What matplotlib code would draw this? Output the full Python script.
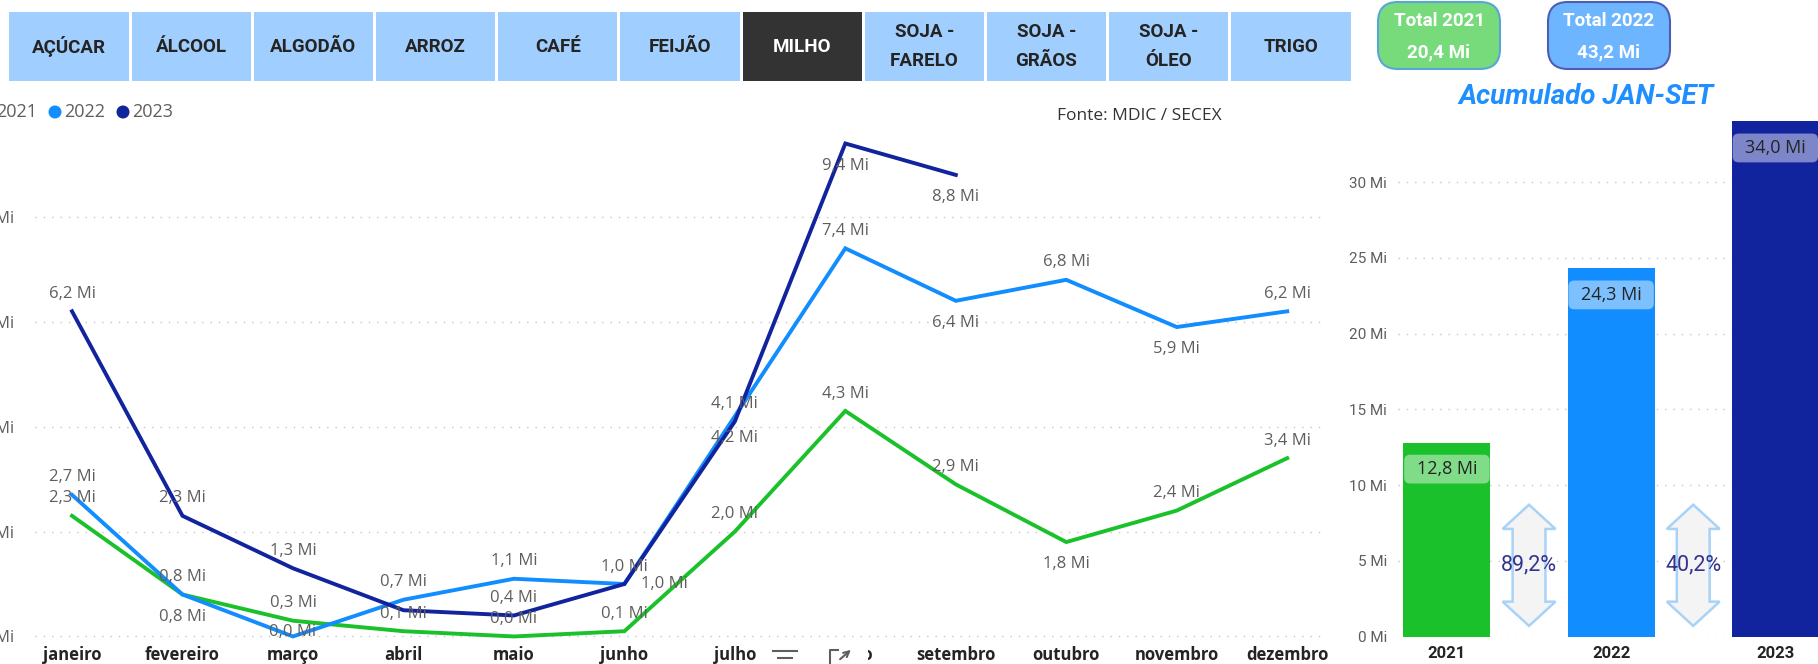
import matplotlib
matplotlib.use("Agg")
import matplotlib.pyplot as plt
from matplotlib.patches import Rectangle, FancyBboxPatch, Polygon, Circle

# Dados (Mi toneladas) - exportação de milho, fonte MDIC / SECEX
MESES = ['janeiro', 'fevereiro', 'março', 'abril', 'maio', 'junho', 'julho',
         'agosto', 'setembro', 'outubro', 'novembro', 'dezembro']
ANOS = ['2021', '2022', '2023']
V2021 = [2.3, 0.8, 0.3, 0.1, 0.0, 0.1, 2.0, 4.3, 2.9, 1.8, 2.4, 3.4]
V2022 = [2.7, 0.8, 0.0, 0.7, 1.1, 1.0, 4.2, 7.4, 6.4, 6.8, 5.9, 6.2]
V2023 = [6.2, 2.3, 1.3, 0.5, 0.4, 1.0, 4.1, 9.4, 8.8]
ACUMULADO = [12.8, 24.3, 34.0]      # JAN-SET
CRESCIMENTO = [89.2, 40.2]          # %
TOTAIS = [20.4, 43.2]               # total 2021, 2022
PRODUTOS = ['AÇÚCAR', 'ÁLCOOL', 'ALGODÃO', 'ARROZ', 'CAFÉ', 'FEIJÃO', 'MILHO',
            'SOJA -\nFARELO', 'SOJA -\nGRÃOS', 'SOJA -\nÓLEO', 'TRIGO']
SELECIONADO = 'MILHO'

CORES = ['#1AC12A', '#118DFF', '#12239E']
# posição dos rótulos: a = acima, b = abaixo, c = sobre o ponto, r = à direita, - = oculto
POS_ROTULOS = ['aaaaaaaaabaa', 'abcaaabababa', 'aaa-arabb']
OFFSETS = {'a': (0, 12.5), 'b': (0, -16), 'c': (0, 3), 'r': (29, 0)}

CINZA = '#605e5c'
ESCURO = '#252423'
W, H = 1818, 664


def fmt_mi(v):
    return f"{v:.1f}".replace('.', ',') + " Mi"


def frac(x0, y0, x1, y1):
    """pixel box (top-left origin) -> figure fraction rect"""
    return [x0 / W, (H - y1) / H, (x1 - x0) / W, (y1 - y0) / H]


fig = plt.figure(figsize=(W / 100, H / 100), dpi=100)
fig.patch.set_facecolor('white')

# ---------------- line chart ----------------
ax = fig.add_axes(frac(35, 112, 1327, 641.7))
series = [V2021, V2022, V2023]
for vals, cor, pos in zip(series, CORES, POS_ROTULOS):
    x = list(range(len(vals)))
    ax.plot(x, vals, color=cor, lw=2.8, solid_joinstyle='miter', zorder=3)
    for xi, v, p in zip(x, vals, pos):
        if p == '-':
            continue
        ax.annotate(fmt_mi(v), (xi, v), xytext=OFFSETS[p], textcoords='offset points',
                    ha='center', va='center', fontsize=12, color=CINZA,
                    family='Open Sans', zorder=4)
ax.set_xlim(-0.335, 11.36)
ax.set_ylim(-0.1, 10.0)
ax.set_yticks([0, 2, 4, 6, 8])
ax.set_yticklabels([f"{t} Mi" for t in [0, 2, 4, 6, 8]], family='Open Sans',
                   fontsize=12, color=CINZA)
ax.set_xticks(range(12))
ax.set_xticklabels(MESES, family='Open Sans', fontweight='bold', fontsize=12, color=ESCURO)
ax.tick_params(axis='y', length=0, pad=15)
ax.tick_params(axis='x', length=0, pad=3)
ax.grid(axis='y', linestyle=(0, (1, 5)), color='#c8c6c4', lw=1)
for s in ax.spines.values():
    s.set_visible(False)
ax.patch.set_alpha(0)

# ---------------- accumulated bars ----------------
axb = fig.add_axes(frac(1398, 106.3, 1830, 636.5))
xb = list(range(len(ACUMULADO)))
axb.bar(xb, ACUMULADO, width=0.53, color=CORES, zorder=2)
aspect = (1 / 15.15) / (1 / 164.6)
for xi, v in zip(xb, ACUMULADO):
    axb.add_patch(FancyBboxPatch((xi - 0.26, v - 1.75 - 0.95), 0.52, 1.9,
                                 boxstyle="round,pad=0,rounding_size=0.036",
                                 mutation_aspect=aspect, fc='white', alpha=0.45,
                                 ec='none', zorder=3))
    axb.text(xi, v - 1.75, fmt_mi(v), ha='center', va='center', fontsize=13,
             family='Open Sans', color=ESCURO, zorder=4)

for i, c in enumerate(CRESCIMENTO):
    xc = i + 0.5
    hw, sw, hl, y0, y1 = 0.161, 0.1, 1.6, 0.7, 8.7
    pts = [(xc, y1), (xc + hw, y1 - hl), (xc + sw, y1 - hl), (xc + sw, y0 + hl),
           (xc + hw, y0 + hl), (xc, y0), (xc - hw, y0 + hl), (xc - sw, y0 + hl),
           (xc - sw, y1 - hl), (xc - hw, y1 - hl)]
    axb.add_patch(Polygon(pts, closed=True, fc='#f4f4f4', ec='#a9d2f7', lw=1.8, zorder=3))
    axb.text(xc, 4.7, f"{c:.1f}%".replace('.', ','), ha='center', va='center',
             fontsize=15.5, family='Roboto', color='#32348f', zorder=4)

axb.set_xlim(-0.298, 2.333)
axb.set_ylim(0, 35)
axb.set_yticks(range(0, 35, 5))
axb.set_yticklabels([f"{t} Mi" for t in range(0, 35, 5)], family='Roboto',
                    fontsize=11, color=CINZA)
axb.set_xticks(xb)
axb.set_xticklabels(ANOS, family='Roboto', fontweight='bold', fontsize=12, color=ESCURO)
axb.tick_params(axis='y', length=0, pad=8)
axb.tick_params(axis='x', length=0, pad=7)
axb.grid(axis='y', linestyle=(0, (1, 5)), color='#c8c6c4', lw=1)
axb.set_axisbelow(True)
for s in axb.spines.values():
    s.set_visible(False)
axb.patch.set_alpha(0)

# ---------------- overlay: buttons, cards, legend ----------------
ov = fig.add_axes([0, 0, 1, 1], zorder=10)
ov.set_xlim(0, W)
ov.set_ylim(H, 0)
ov.axis('off')
ov.patch.set_alpha(0)

bx0, bstep = 9.3, 122.2
for i, p in enumerate(PRODUTOS):
    sel = p == SELECIONADO
    ov.add_patch(Rectangle((bx0 + i * bstep, 11.6), bstep - 3, 69.4,
                           fc='#333333' if sel else '#a0cfff', ec='none'))
    ov.text(bx0 + i * bstep + (bstep - 3) / 2, 46.5, p, ha='center', va='center',
            fontsize=13.5, fontweight='bold', family='Roboto', linespacing=1.75,
            color='white' if sel else ESCURO)

cards = [(1378, '#77db7c', '#58a6d8'), (1548, '#6db6ff', '#4e5db3')]
for (cx, fc, ec), ano, tot in zip(cards, ANOS, TOTAIS):
    ov.add_patch(FancyBboxPatch((cx, 2), 122, 67, boxstyle="round,pad=0,rounding_size=20",
                                fc=fc, ec=ec, lw=1.5))
    ov.text(cx + 61, 21, f"Total {ano}", ha='center', va='center', fontsize=13.5,
            fontweight='bold', family='Roboto', color='white')
    ov.text(cx + 61, 52, fmt_mi(tot), ha='center', va='center', fontsize=13.5,
            fontweight='bold', family='Roboto', color='white')

ov.text(1586, 96, 'Acumulado JAN-SET', ha='center', va='center', fontsize=20,
        fontweight='bold', style='italic', family='Roboto', color='#1f8fff')
ov.text(1057, 116, 'Fonte: MDIC / SECEX', ha='left', va='center', fontsize=12.5,
        family='Open Sans', color='#333333')

for i, (ano, cor) in enumerate(zip(ANOS, CORES)):
    cx = -13 + 68 * i
    ov.add_patch(Circle((cx, 112), 6.5, fc=cor, ec='none'))
    ov.text(cx + 9, 112, ano, ha='left', va='center', fontsize=13,
            family='Open Sans', color=CINZA)

# hover icons over the 'agosto' label
ov.add_patch(Rectangle((806, 642), 62, 22, fc='white', ec='none'))
ov.plot([773, 797], [651, 651], color=CINZA, lw=1.5)
ov.plot([778, 792], [658, 658], color=CINZA, lw=1.5)
ov.plot([838, 830, 830], [650, 650, 664], color=CINZA, lw=1.5)
ov.annotate('', xy=(853, 648), xytext=(838, 661),
            arrowprops=dict(arrowstyle='->', color=CINZA, lw=1.5))

fig.savefig('out.png', dpi=100)
